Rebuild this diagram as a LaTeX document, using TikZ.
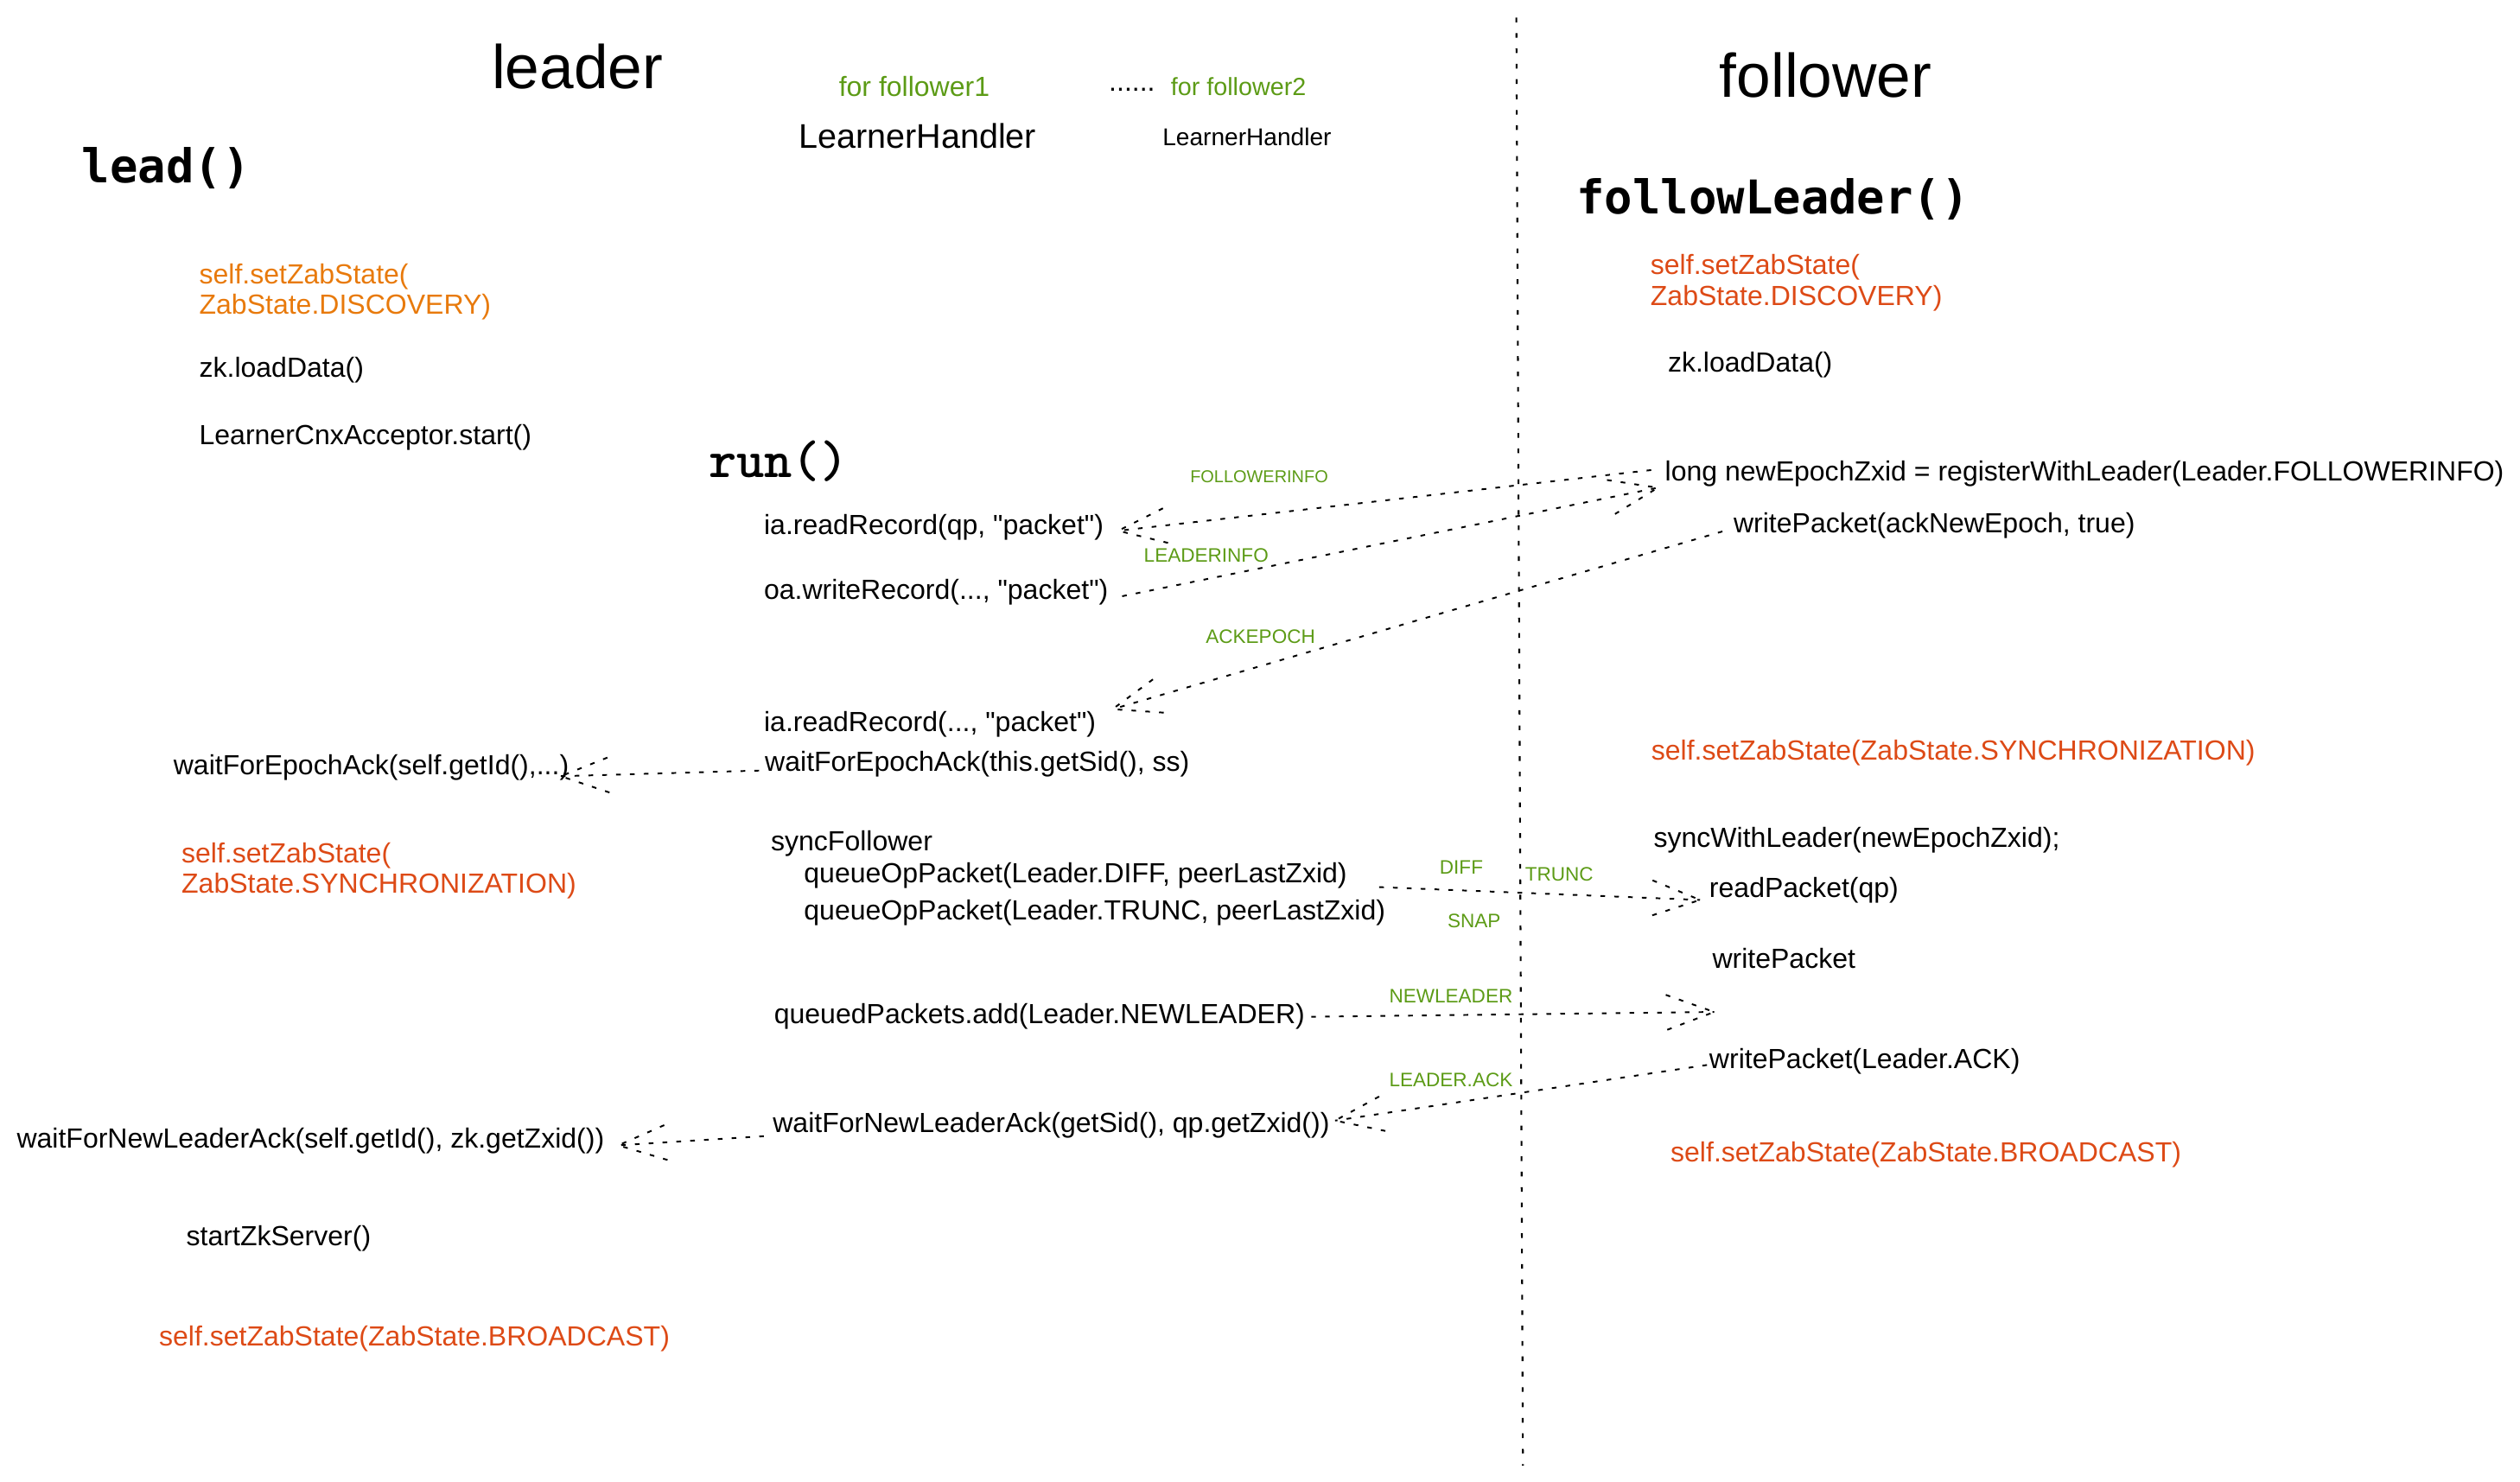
\documentclass[tikz,border=0pt]{standalone}
\usepackage{fontspec}
\setmainfont{Liberation Sans}[Ligatures=TeXOff]
\newfontfamily\funcfont{DejaVu Sans Mono}
\newfontfamily\runfont{lmmonolt10-bold.otf}
\usepackage{xcolor}
\usetikzlibrary{decorations.markings}

\definecolor{zkorange}{RGB}{232,122,12}
\definecolor{zkred}{RGB}{221,74,22}
\definecolor{zkgreen}{RGB}{92,155,22}

\begin{document}
\begin{tikzpicture}[x=0.02cm, y=-0.02cm,
  every node/.style={inner sep=0pt, outer sep=0pt, anchor=west, align=left,
    font=\fontsize{9.8pt}{10.8pt}\selectfont},
  heading/.style={font=\fontsize{21.8pt}{24pt}\selectfont},
  fname/.style={font=\fontsize{16.5pt}{18pt}\selectfont\funcfont\bfseries},
  runname/.style={font=\fontsize{18.8pt}{20pt}\selectfont\runfont},
  lbl/.style={text=zkgreen, font=\fontsize{6.9pt}{8pt}\selectfont},
  orstate/.style={text=zkorange},
  redstate/.style={text=zkred},
  dots/.style={line width=0.6pt, dash pattern=on 1.65pt off 3.25pt},
  msg/.style={dots, postaction={decorate, decoration={markings,
    mark=at position 1 with {\draw[dots] (-0.6cm,0.22cm) -- (0,0) -- (-0.6cm,-0.22cm);}}}}]
  \useasboundingbox (0,0) rectangle (1568,922);

  % leader / follower divider
  \draw[line width=0.65pt, dash pattern=on 1.65pt off 3.8pt] (943.5,11) -- (947.6,912);

  % headings
  \node[heading] (leader) at (306,41.5) {leader};
  \node[heading] (follower) at (1070,46.6) {follower};
  \node[fname] (lead) at (51,104.5) {lead()};
  \node[fname] (follow) at (981,124) {followLeader()};
  \node[runname] (run) at (441,287) {run()};

  % leader side
  \node[orstate] (ldisc) at (124,181.5) {self.setZabState(\\ZabState.DISCOVERY)};
  \node (lload) at (124,230) {zk.loadData()};
  \node (lacc) at (124,272) {LearnerCnxAcceptor.start()};
  \node (lwea) at (108,477.6) {waitForEpochAck(self.getId(),...)};
  \node[redstate] (lsync) at (113,542) {self.setZabState(\\ZabState.SYNCHRONIZATION)};
  \node (lwnl) at (10.5,710) {waitForNewLeaderAck(self.getId(), zk.getZxid())};
  \node (lstart) at (116,770.5) {startZkServer()};
  \node[redstate] (lbcast) at (99,833) {self.setZabState(ZabState.BROADCAST)};

  % learner handlers
  \node[text=zkgreen] (ff1) at (522,54) {for follower1};
  \node (more) at (690,55.7) {......};
  \node[text=zkgreen, font=\fontsize{8.8pt}{10pt}\selectfont] (ff2) at (728.5,54) {for follower2};
  \node[font=\fontsize{12.1pt}{14pt}\selectfont] (lh1) at (497,84.5) {LearnerHandler};
  \node[font=\fontsize{8.6pt}{10pt}\selectfont] (lh2) at (723.4,85) {LearnerHandler};
  \node (rr1) at (475.4,328) {ia.readRecord(qp, "packet")};
  \node (wr) at (475.4,368.3) {oa.writeRecord(..., "packet")};
  \node (rr2) at (475.4,450.8) {ia.readRecord(..., "packet")};
  \node (wea) at (476,475.5) {waitForEpochAck(this.getSid(), ss)};
  \node (sf) at (479.7,525) {syncFollower};
  \node (qd) at (500.3,545) {queueOpPacket(Leader.DIFF, peerLastZxid)};
  \node (qt) at (500.3,568.2) {queueOpPacket(Leader.TRUNC, peerLastZxid)};
  \node (qa) at (481.7,632.7) {queuedPackets.add(Leader.NEWLEADER)};
  \node (wnl) at (480.9,700) {waitForNewLeaderAck(getSid(), qp.getZxid())};

  % follower side
  \node[redstate] (fdisc) at (1027,176) {self.setZabState(\\ZabState.DISCOVERY)};
  \node (fload) at (1037.8,227) {zk.loadData()};
  \node (reg) at (1036,294.8) {long newEpochZxid = registerWithLeader(Leader.FOLLOWERINFO)};
  \node (ack) at (1078.7,327) {writePacket(ackNewEpoch, true)};
  \node[redstate] (fsync) at (1027.5,468.7) {self.setZabState(ZabState.SYNCHRONIZATION)};
  \node (swl) at (1029,523) {syncWithLeader(newEpochZxid);};
  \node (rp) at (1063.6,554.2) {readPacket(qp)};
  \node (wp) at (1065.5,596.6) {writePacket};
  \node (wpa) at (1063.6,660.7) {writePacket(Leader.ACK)};
  \node[redstate] (fbcast) at (1039.5,718.3) {self.setZabState(ZabState.BROADCAST)};

  % packet labels
  \node[lbl, font=\fontsize{6.1pt}{7pt}\selectfont] (lfi) at (740.6,296.6) {FOLLOWERINFO};
  \node[lbl] (lli) at (711.8,345.6) {LEADERINFO};
  \node[lbl] (lae) at (750.3,396) {ACKEPOCH};
  \node[lbl] (ldiff) at (895.8,539.5) {DIFF};
  \node[lbl] (ltrunc) at (949,544) {TRUNC};
  \node[lbl] (lsnap) at (900.7,573.2) {SNAP};
  \node[lbl] (lnl) at (864.4,620) {NEWLEADER};
  \node[lbl] (lack) at (864.4,672) {LEADER.ACK};

  % packets
  \coordinate (nlend) at (1066.6,629.7);
  \draw[msg] ([shift={(-8.6,-2.3)}]reg.west) -- ([shift={(9,2.3)}]rr1.east);
  \draw[msg] ([shift={(8.7,2.7)}]wr.east) -- ([shift={(-4.5,8.7)}]reg.west);
  \draw[msg] ([shift={(-7,3.7)}]ack.west) -- ([shift={(10.3,-9.5)}]rr2.east);
  \draw[msg] ([shift={(-3.7,4)}]wea.west) -- ([shift={(-5,5.4)}]lwea.east);
  \draw[msg] ([shift={(20,7)}]qd.east) -- ([shift={(-5.8,5.8)}]rp.west);
  \draw[msg] ([shift={(4,0)}]qa.east) -- (nlend);
  \draw[msg] ([shift={(-1.5,2)}]wpa.west) -- ([shift={(3.4,-2.7)}]wnl.east);
  \draw[msg] ([shift={(-5.6,7)}]wnl.west) -- ([shift={(8.7,2.7)}]lwnl.east);
\end{tikzpicture}
\end{document}
